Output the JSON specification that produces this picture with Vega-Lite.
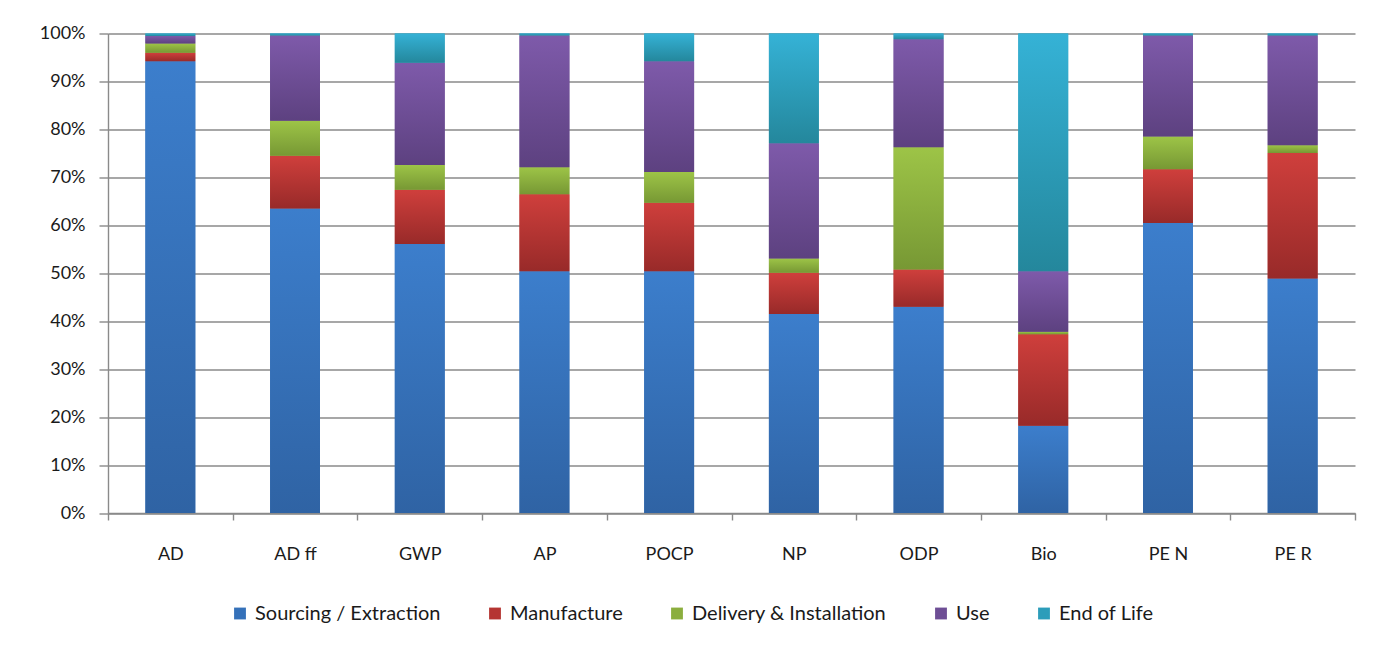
{
  "$schema": "https://vega.github.io/schema/vega-lite/v6.json",
  "autosize": "none",
  "width": 1247,
  "height": 479.5,
  "padding": {"left": 108, "top": 33.5, "right": 32, "bottom": 134},
  "background": "white",
  "config": {
    "font": "Lato",
    "view": {"stroke": null},
    "axis": {"labelFont": "Lato", "labelFontSize": 18, "labelColor": "#1a1a1a", "domainColor": "#8a8a8a", "tickColor": "#8a8a8a", "gridColor": "#8a8a8a", "gridWidth": 1.4, "domainWidth": 1.4, "tickWidth": 1.4},
    "legend": {"labelFont": "Lato", "labelFontSize": 20, "labelColor": "#1a1a1a"}
  },
  "data": {
    "values": [
      {"cat": "AD", "stage": "Sourcing / Extraction", "k": 1, "v": 94.2},
      {"cat": "AD", "stage": "Manufacture", "k": 2, "v": 1.8},
      {"cat": "AD", "stage": "Delivery & Installation", "k": 3, "v": 1.9},
      {"cat": "AD", "stage": "Use", "k": 4, "v": 1.6},
      {"cat": "AD", "stage": "End of Life", "k": 5, "v": 0.5},
      {"cat": "AD ff", "stage": "Sourcing / Extraction", "k": 1, "v": 63.5},
      {"cat": "AD ff", "stage": "Manufacture", "k": 2, "v": 11.0},
      {"cat": "AD ff", "stage": "Delivery & Installation", "k": 3, "v": 7.3},
      {"cat": "AD ff", "stage": "Use", "k": 4, "v": 17.8},
      {"cat": "AD ff", "stage": "End of Life", "k": 5, "v": 0.4},
      {"cat": "GWP", "stage": "Sourcing / Extraction", "k": 1, "v": 56.1},
      {"cat": "GWP", "stage": "Manufacture", "k": 2, "v": 11.3},
      {"cat": "GWP", "stage": "Delivery & Installation", "k": 3, "v": 5.2},
      {"cat": "GWP", "stage": "Use", "k": 4, "v": 21.3},
      {"cat": "GWP", "stage": "End of Life", "k": 5, "v": 6.1},
      {"cat": "AP", "stage": "Sourcing / Extraction", "k": 1, "v": 50.4},
      {"cat": "AP", "stage": "Manufacture", "k": 2, "v": 16.1},
      {"cat": "AP", "stage": "Delivery & Installation", "k": 3, "v": 5.6},
      {"cat": "AP", "stage": "Use", "k": 4, "v": 27.5},
      {"cat": "AP", "stage": "End of Life", "k": 5, "v": 0.4},
      {"cat": "POCP", "stage": "Sourcing / Extraction", "k": 1, "v": 50.4},
      {"cat": "POCP", "stage": "Manufacture", "k": 2, "v": 14.3},
      {"cat": "POCP", "stage": "Delivery & Installation", "k": 3, "v": 6.4},
      {"cat": "POCP", "stage": "Use", "k": 4, "v": 23.1},
      {"cat": "POCP", "stage": "End of Life", "k": 5, "v": 5.8},
      {"cat": "NP", "stage": "Sourcing / Extraction", "k": 1, "v": 41.5},
      {"cat": "NP", "stage": "Manufacture", "k": 2, "v": 8.6},
      {"cat": "NP", "stage": "Delivery & Installation", "k": 3, "v": 3.0},
      {"cat": "NP", "stage": "Use", "k": 4, "v": 24.0},
      {"cat": "NP", "stage": "End of Life", "k": 5, "v": 22.9},
      {"cat": "ODP", "stage": "Sourcing / Extraction", "k": 1, "v": 43.0},
      {"cat": "ODP", "stage": "Manufacture", "k": 2, "v": 7.8},
      {"cat": "ODP", "stage": "Delivery & Installation", "k": 3, "v": 25.5},
      {"cat": "ODP", "stage": "Use", "k": 4, "v": 22.5},
      {"cat": "ODP", "stage": "End of Life", "k": 5, "v": 1.2},
      {"cat": "Bio", "stage": "Sourcing / Extraction", "k": 1, "v": 18.2},
      {"cat": "Bio", "stage": "Manufacture", "k": 2, "v": 19.1},
      {"cat": "Bio", "stage": "Delivery & Installation", "k": 3, "v": 0.5},
      {"cat": "Bio", "stage": "Use", "k": 4, "v": 12.6},
      {"cat": "Bio", "stage": "End of Life", "k": 5, "v": 49.6},
      {"cat": "PE N", "stage": "Sourcing / Extraction", "k": 1, "v": 60.5},
      {"cat": "PE N", "stage": "Manufacture", "k": 2, "v": 11.2},
      {"cat": "PE N", "stage": "Delivery & Installation", "k": 3, "v": 6.8},
      {"cat": "PE N", "stage": "Use", "k": 4, "v": 21.1},
      {"cat": "PE N", "stage": "End of Life", "k": 5, "v": 0.4},
      {"cat": "PE R", "stage": "Sourcing / Extraction", "k": 1, "v": 48.9},
      {"cat": "PE R", "stage": "Manufacture", "k": 2, "v": 26.2},
      {"cat": "PE R", "stage": "Delivery & Installation", "k": 3, "v": 1.6},
      {"cat": "PE R", "stage": "Use", "k": 4, "v": 22.9},
      {"cat": "PE R", "stage": "End of Life", "k": 5, "v": 0.4}
    ]
  },
  "encoding": {
    "x": {
      "field": "cat", "type": "nominal", "sort": null,
      "scale": {"paddingInner": 0, "paddingOuter": 0},
      "axis": {"title": null, "labelAngle": 0, "tickBand": "extent", "tickSize": 7, "labelPadding": 25, "grid": false}
    },
    "y": {
      "field": "v", "type": "quantitative", "stack": "normalize",
      "axis": {"title": null, "format": ".0%", "values": [0, 0.1, 0.2, 0.3, 0.4, 0.5, 0.6, 0.7, 0.8, 0.9, 1], "labelOverlap": false, "tickSize": 9, "labelPadding": 14, "grid": true}
    },
    "order": {"field": "k", "type": "quantitative"}
  },
  "layer": [
    {
      "mark": {"type": "bar", "width": {"band": 0.4}},
      "encoding": {
        "color": {
          "field": "stage", "type": "nominal",
          "scale": {
            "domain": ["Sourcing / Extraction", "Manufacture", "Delivery & Installation", "Use", "End of Life"],
            "range": ["#3571B9", "#B53532", "#8BAE3E", "#6E4E95", "#2C9DBA"]
          },
          "legend": {"title": null, "orient": "none", "direction": "horizontal", "legendX": 122, "legendY": 570, "symbolType": "square", "symbolSize": 140, "symbolStrokeWidth": 0, "columnPadding": 44, "labelOffset": 5, "labelLimit": 400}
        }
      }
    },
    {
      "mark": {"type": "bar", "width": {"band": 0.4}},
      "encoding": {
        "detail": {"field": "stage", "type": "nominal"},
        "color": {
          "condition": [
            {"test": "datum.k == 1", "value": {"gradient": "linear", "x1": 0, "y1": 0, "x2": 0, "y2": 1, "stops": [{"offset": 0, "color": "#3C7ECC"}, {"offset": 1, "color": "#2F63A4"}]}},
            {"test": "datum.k == 2", "value": {"gradient": "linear", "x1": 0, "y1": 0, "x2": 0, "y2": 1, "stops": [{"offset": 0, "color": "#CF3F3C"}, {"offset": 1, "color": "#982A29"}]}},
            {"test": "datum.k == 3", "value": {"gradient": "linear", "x1": 0, "y1": 0, "x2": 0, "y2": 1, "stops": [{"offset": 0, "color": "#9DC447"}, {"offset": 1, "color": "#779834"}]}},
            {"test": "datum.k == 4", "value": {"gradient": "linear", "x1": 0, "y1": 0, "x2": 0, "y2": 1, "stops": [{"offset": 0, "color": "#7E5AAA"}, {"offset": 1, "color": "#5D4180"}]}}
          ],
          "value": {"gradient": "linear", "x1": 0, "y1": 0, "x2": 0, "y2": 1, "stops": [{"offset": 0, "color": "#35B2D6"}, {"offset": 1, "color": "#24879C"}]}
        }
      }
    }
  ]
}
